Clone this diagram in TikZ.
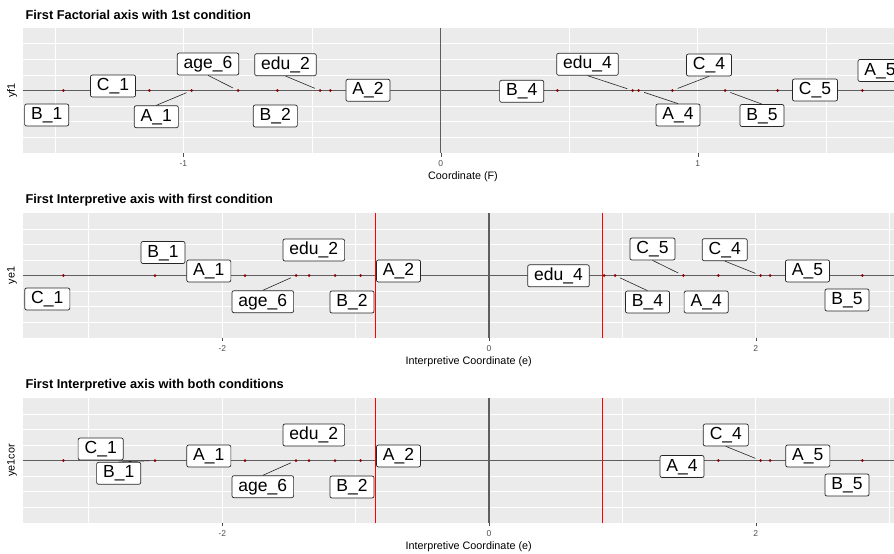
\documentclass[tikz,border=0pt]{standalone}
\usepackage{fontspec}
\setmainfont{Liberation Sans}
\definecolor{panelgrey}{HTML}{EBEBEB}
\definecolor{axisgrey}{HTML}{5E5E5E}
\definecolor{dotred}{HTML}{8B0000}
\definecolor{ticktext}{HTML}{4D4D4D}
\definecolor{cutred}{HTML}{FF0000}
\begin{document}
\begin{tikzpicture}[x=1pt,y=-1pt,
    lbl/.style={draw=black!85, line width=0.7pt, rounded corners=2pt, fill=white, font=\fontsize{17.5}{18}\selectfont, inner xsep=6.5pt, inner ysep=2.5pt, text height=13pt, text depth=4pt},
    dot/.style={circle, fill=dotred, inner sep=0pt, minimum size=3pt},
    ttl/.style={anchor=west, font=\bfseries\fontsize{12.8}{14}\selectfont},
    axt/.style={font=\fontsize{10.8}{12}\selectfont},
    tck/.style={font=\fontsize{8.5}{10}\selectfont, text=ticktext},
    leader/.style={draw=black!85, line width=0.6pt, shorten >=4pt},
    gmaj/.style={white, line width=1.1pt},
    gmin/.style={white, line width=0.55pt},
    zero/.style={axisgrey, line width=1.4pt},
    redline/.style={draw=cutred, line width=1.3pt}]
    \useasboundingbox (0,0) rectangle (894,554);
    \clip (0,0) rectangle (894,554);
    % panel 1
    \node[ttl] (t1) at (22,15) {First Factorial axis with 1st condition};
    \fill[panelgrey] (22.7,28) rectangle (905,153);
    \draw[gmin] (22.7,43.6) -- (905,43.6); \draw[gmin] (22.7,59.2) -- (905,59.2); \draw[gmin] (22.7,74.8) -- (905,74.8); \draw[gmin] (22.7,106) -- (905,106); \draw[gmin] (22.7,121.6) -- (905,121.6); \draw[gmin] (22.7,137.2) -- (905,137.2);
    \draw[gmin] (55.2,28) -- (55.2,153); \draw[gmin] (312,28) -- (312,153); \draw[gmin] (569.2,28) -- (569.2,153); \draw[gmin] (826.2,28) -- (826.2,153);
    \draw[gmaj] (183.3,28) -- (183.3,153); \draw[gmaj] (697.7,28) -- (697.7,153);
    \draw[zero] (440.7,28) -- (440.7,153); \draw[zero] (22.7,90.5) -- (905,90.5);
    \draw[ticktext] (183.3,153) -- (183.3,156.5); \draw[ticktext] (440.7,153) -- (440.7,156.5); \draw[ticktext] (697.7,153) -- (697.7,156.5);
    \node[tck] (x1a) at (183.3,163.3) {-1}; \node[tck] (x1b) at (440.7,163.3) {0}; \node[tck] (x1c) at (697.7,163.3) {1};
    \node[axt] (xt1) at (463,177) {Coordinate (F)};
    \node[axt, rotate=90] (yt1) at (12,90.5) {yf1};
    \node[dot] (p1a) at (63.3,90.5) {}; \node[dot] (p1b) at (149.3,90.5) {}; \node[dot] (p1c) at (191.7,90.5) {}; \node[dot] (p1d) at (238,90.5) {}; \node[dot] (p1e) at (277.3,90.5) {}; \node[dot] (p1f) at (320,90.5) {}; \node[dot] (p1g) at (330.3,90.5) {};
    \node[dot] (p1h) at (557.3,90.5) {}; \node[dot] (p1i) at (632.7,90.5) {}; \node[dot] (p1j) at (638.7,90.5) {}; \node[dot] (p1k) at (672.3,90.5) {}; \node[dot] (p1l) at (725,90.5) {}; \node[dot] (p1m) at (777.7,90.5) {}; \node[dot] (p1n) at (862.3,90.5) {};
    \node[lbl] (B1a) at (46.7,115) {B\_1}; \node[lbl] (C1a) at (113,86) {C\_1}; \node[lbl] (A1a) at (156.3,116.7) {A\_1}; \node[lbl] (age6a) at (208,64) {age\_6}; \node[lbl] (edu2a) at (285.5,64.7) {edu\_2}; \node[lbl] (B2a) at (275.3,116) {B\_2}; \node[lbl] (A2a) at (368,90.3) {A\_2};
    \node[lbl] (B4a) at (521.7,91.3) {B\_4}; \node[lbl] (edu4a) at (587.5,64.3) {edu\_4}; \node[lbl] (C4a) at (709,65) {C\_4}; \node[lbl] (A4a) at (678,115) {A\_4}; \node[lbl] (B5a) at (762,115.5) {B\_5}; \node[lbl] (C5a) at (815,90) {C\_5}; \node[lbl] (A5a) at (880,70.5) {A\_5};
    \draw[leader] (A1a.north) -- (p1c); \draw[leader] (age6a.south) -- (p1d); \draw[leader] (edu2a.south) -- (p1f);
    \draw[leader] (edu4a.south) -- (p1i); \draw[leader] (C4a.south) -- (p1k); \draw[leader] (A4a.north) -- (p1j); \draw[leader] (B5a.north) -- (p1l);
    % panel 2
    \node[ttl] (t2) at (22,200) {First Interpretive axis with first condition};
    \fill[panelgrey] (22.7,213.3) rectangle (905,337.7);
    \draw[gmin] (22.7,228.9) -- (905,228.9); \draw[gmin] (22.7,244.4) -- (905,244.4); \draw[gmin] (22.7,260) -- (905,260); \draw[gmin] (22.7,291.1) -- (905,291.1); \draw[gmin] (22.7,306.6) -- (905,306.6); \draw[gmin] (22.7,322.2) -- (905,322.2);
    \draw[gmin] (88.3,213.3) -- (88.3,337.7); \draw[gmin] (355.7,213.3) -- (355.7,337.7); \draw[gmin] (622.7,213.3) -- (622.7,337.7); \draw[gmin] (889,213.3) -- (889,337.7);
    \draw[gmaj] (222.3,213.3) -- (222.3,337.7); \draw[gmaj] (755.7,213.3) -- (755.7,337.7);
    \draw[zero] (489,213.3) -- (489,337.7); \draw[zero] (22.7,275.5) -- (905,275.5);
    \draw[ticktext] (222.3,337.7) -- (222.3,341.2); \draw[ticktext] (489,337.7) -- (489,341.2); \draw[ticktext] (755.7,337.7) -- (755.7,341.2);
    \node[tck] (x2a) at (222.3,348.3) {-2}; \node[tck] (x2b) at (489,348.3) {0}; \node[tck] (x2c) at (755.7,348.3) {2};
    \node[axt] (xt2) at (468.7,362) {Interpretive Coordinate (e)};
    \node[axt, rotate=90] (yt2) at (12,275.5) {ye1};
    \node[dot] (p2a) at (63.3,275.5) {}; \node[dot] (p2b) at (155,275.5) {}; \node[dot] (p2c) at (245,275.5) {}; \node[dot] (p2d) at (296,275.5) {}; \node[dot] (p2e) at (309,275.5) {}; \node[dot] (p2f) at (335,275.5) {}; \node[dot] (p2g) at (360.7,275.5) {};
    \node[dot] (p2h) at (604,275.5) {}; \node[dot] (p2i) at (615,275.5) {}; \node[dot] (p2j) at (683.3,275.5) {}; \node[dot] (p2k) at (718.3,275.5) {}; \node[dot] (p2l) at (760.7,275.5) {}; \node[dot] (p2m) at (770,275.5) {}; \node[dot] (p2n) at (862.3,275.5) {};
    \node[lbl] (C1b) at (47.3,299) {C\_1}; \node[lbl] (B1b) at (163,252.5) {B\_1}; \node[lbl] (A1b) at (208.8,271) {A\_1}; \node[lbl] (age6b) at (262.8,301.7) {age\_6}; \node[lbl] (edu2b) at (313.8,250) {edu\_2}; \node[lbl] (B2b) at (352,302) {B\_2}; \node[lbl] (A2b) at (398.5,271) {A\_2};
    \node[lbl] (edu4b) at (558.5,275.8) {edu\_4}; \node[lbl] (C5b) at (652.5,249) {C\_5}; \node[lbl] (B4b) at (647.5,302) {B\_4}; \node[lbl] (C4b) at (724.7,249.7) {C\_4}; \node[lbl] (A4b) at (706.2,302) {A\_4}; \node[lbl] (A5b) at (807.5,271) {A\_5}; \node[lbl] (B5b) at (847,300) {B\_5};
    \draw[leader] (age6b.north) -- (p2d); \draw[leader] (C5b.south) -- (p2j); \draw[leader] (B4b.north) -- (p2i); \draw[leader] (C4b.south) -- (p2l);
    \draw[redline] (602.3,213.3) -- (602.3,337.7) (375.5,213.3) -- (375.5,337.7);
    % panel 3
    \node[ttl] (t3) at (22,385) {First Interpretive axis with both conditions};
    \fill[panelgrey] (22.7,398.3) rectangle (905,522.7);
    \draw[gmin] (22.7,413.9) -- (905,413.9); \draw[gmin] (22.7,429.4) -- (905,429.4); \draw[gmin] (22.7,445) -- (905,445); \draw[gmin] (22.7,476.1) -- (905,476.1); \draw[gmin] (22.7,491.6) -- (905,491.6); \draw[gmin] (22.7,507.2) -- (905,507.2);
    \draw[gmin] (88.3,398.3) -- (88.3,522.7); \draw[gmin] (355.7,398.3) -- (355.7,522.7); \draw[gmin] (622.7,398.3) -- (622.7,522.7); \draw[gmin] (889,398.3) -- (889,522.7);
    \draw[gmaj] (222.3,398.3) -- (222.3,522.7); \draw[gmaj] (755.7,398.3) -- (755.7,522.7);
    \draw[zero] (489,398.3) -- (489,522.7); \draw[zero] (22.7,460.5) -- (905,460.5);
    \draw[ticktext] (222.3,522.7) -- (222.3,526.2); \draw[ticktext] (489,522.7) -- (489,526.2); \draw[ticktext] (755.7,522.7) -- (755.7,526.2);
    \node[tck] (x3a) at (222.3,533.3) {-2}; \node[tck] (x3b) at (489,533.3) {0}; \node[tck] (x3c) at (755.7,533.3) {2};
    \node[axt] (xt3) at (468.7,547) {Interpretive Coordinate (e)};
    \node[axt, rotate=90] (yt3) at (12,460.5) {ye1cor};
    \node[dot] (p3a) at (63.3,460.5) {}; \node[dot] (p3b) at (155,460.5) {}; \node[dot] (p3c) at (245,460.5) {}; \node[dot] (p3d) at (296,460.5) {}; \node[dot] (p3e) at (309,460.5) {}; \node[dot] (p3f) at (335,460.5) {}; \node[dot] (p3g) at (360.7,460.5) {};
    \node[dot] (p3h) at (718.3,460.5) {}; \node[dot] (p3i) at (760.7,460.5) {}; \node[dot] (p3j) at (770,460.5) {}; \node[dot] (p3k) at (862.3,460.5) {};
    \node[lbl] (C1c) at (100.7,449) {C\_1}; \node[lbl] (B1c) at (118.7,473.3) {B\_1}; \node[lbl] (A1c) at (208.8,456) {A\_1}; \node[lbl] (age6c) at (262.8,486.7) {age\_6}; \node[lbl] (edu2c) at (313.8,435) {edu\_2}; \node[lbl] (B2c) at (352,487) {B\_2}; \node[lbl] (A2c) at (398.5,456) {A\_2};
    \node[lbl] (A4c) at (682,466.5) {A\_4}; \node[lbl] (C4c) at (725.8,435) {C\_4}; \node[lbl] (A5c) at (807.8,456) {A\_5}; \node[lbl] (B5c) at (847,485) {B\_5};
    \draw[leader] (B1c.north) -- (p3b); \draw[leader] (age6c.north) -- (p3d); \draw[leader] (C4c.south) -- (p3i);
    \draw[redline] (602.3,398.3) -- (602.3,522.7) (375.5,398.3) -- (375.5,522.7);
\end{tikzpicture}
\end{document}
